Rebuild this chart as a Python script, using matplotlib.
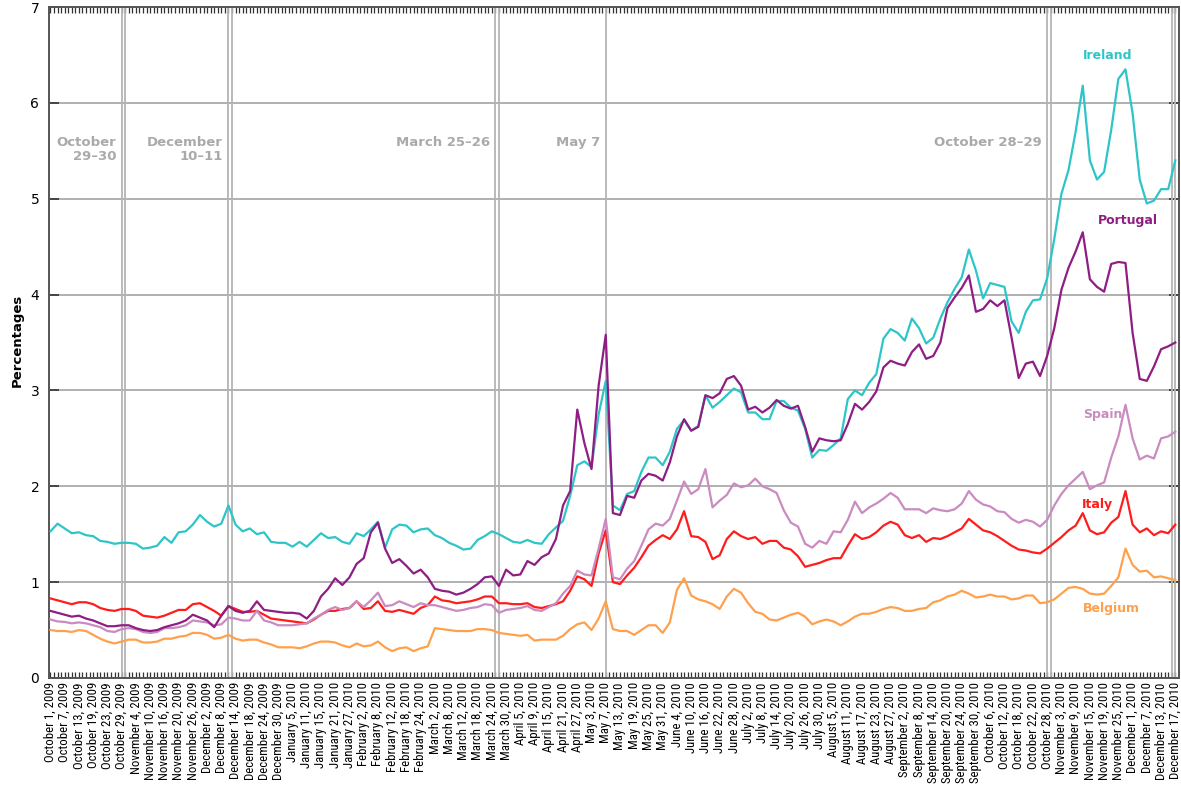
import numpy as np
import pandas as pd
import matplotlib
matplotlib.use('Agg')
import matplotlib.pyplot as plt
from matplotlib import font_manager

# business days from Oct 1 2009, values read every 2nd business day
START = '2009-10-01'
N_DAYS = 317
dates = pd.bdate_range(START, periods=N_DAYS)
days = np.arange(0, N_DAYS, 2)

ireland = [
    1.53, 1.61, 1.56, 1.51, 1.52, 1.49, 1.48, 1.43, 1.42, 1.40,
    1.41, 1.41, 1.40, 1.35, 1.36, 1.38, 1.47, 1.41, 1.52, 1.53,
    1.60, 1.70, 1.63, 1.58, 1.61, 1.80, 1.60, 1.53, 1.56, 1.50,
    1.52, 1.42, 1.41, 1.41, 1.37, 1.42, 1.37, 1.44, 1.51, 1.46,
    1.47, 1.42, 1.40, 1.51, 1.48, 1.55, 1.63, 1.36, 1.55, 1.60,
    1.59, 1.52, 1.55, 1.56, 1.49, 1.46, 1.41, 1.38, 1.34, 1.35,
    1.44, 1.48, 1.53, 1.50, 1.46, 1.42, 1.41, 1.44, 1.41, 1.40,
    1.50, 1.57, 1.64, 1.90, 2.22, 2.26, 2.20, 2.75, 3.10, 1.80,
    1.75, 1.92, 1.95, 2.15, 2.30, 2.30, 2.22, 2.36, 2.60, 2.69,
    2.58, 2.63, 2.95, 2.82, 2.88, 2.95, 3.02, 2.98, 2.77, 2.77,
    2.70, 2.70, 2.89, 2.89, 2.82, 2.79, 2.60, 2.30, 2.38, 2.37,
    2.43, 2.50, 2.91, 3.00, 2.95, 3.08, 3.17, 3.54, 3.64, 3.60,
    3.52, 3.75, 3.65, 3.49, 3.55, 3.75, 3.92, 4.06, 4.18, 4.47,
    4.25, 3.96, 4.12, 4.10, 4.08, 3.72, 3.60, 3.82, 3.94, 3.95,
    4.17, 4.58, 5.05, 5.30, 5.70, 6.18, 5.40, 5.20, 5.28, 5.72,
    6.25, 6.35, 5.89, 5.20, 4.95, 4.98, 5.10, 5.10, 5.40,
]

portugal = [
    0.70, 0.68, 0.66, 0.64, 0.65, 0.62, 0.60, 0.57, 0.54, 0.54,
    0.55, 0.55, 0.52, 0.50, 0.49, 0.50, 0.53, 0.55, 0.57, 0.60,
    0.66, 0.63, 0.60, 0.53, 0.65, 0.75, 0.70, 0.68, 0.70, 0.80,
    0.71, 0.70, 0.69, 0.68, 0.68, 0.67, 0.62, 0.70, 0.85, 0.93,
    1.04, 0.97, 1.05, 1.19, 1.25, 1.52, 1.62, 1.35, 1.20, 1.24,
    1.17, 1.09, 1.13, 1.05, 0.93, 0.91, 0.90, 0.87, 0.89, 0.93,
    0.98, 1.05, 1.06, 0.96, 1.13, 1.07, 1.08, 1.22, 1.18, 1.26,
    1.30, 1.45, 1.80, 1.95, 2.80, 2.45, 2.18, 3.05, 3.58, 1.72,
    1.70, 1.90, 1.88, 2.06, 2.13, 2.11, 2.06, 2.25, 2.52, 2.70,
    2.58, 2.62, 2.95, 2.92, 2.97, 3.12, 3.15, 3.05, 2.80, 2.83,
    2.77, 2.82, 2.90, 2.84, 2.81, 2.84, 2.62, 2.36, 2.50, 2.48,
    2.47, 2.48, 2.65, 2.86, 2.80, 2.88, 2.99, 3.24, 3.31, 3.28,
    3.26, 3.40, 3.48, 3.33, 3.36, 3.50, 3.86, 3.97, 4.07, 4.20,
    3.82, 3.85, 3.94, 3.88, 3.94, 3.55, 3.13, 3.28, 3.30, 3.15,
    3.36, 3.65, 4.05, 4.28, 4.45, 4.65, 4.16, 4.08, 4.03, 4.32,
    4.34, 4.33, 3.60, 3.12, 3.10, 3.25, 3.43, 3.46, 3.50,
]

spain = [
    0.61, 0.59, 0.585, 0.57, 0.58, 0.57, 0.55, 0.53, 0.49, 0.48,
    0.51, 0.52, 0.51, 0.48, 0.47, 0.48, 0.52, 0.52, 0.53, 0.55,
    0.60, 0.59, 0.58, 0.55, 0.56, 0.63, 0.62, 0.60, 0.60, 0.70,
    0.60, 0.58, 0.55, 0.55, 0.55, 0.56, 0.57, 0.62, 0.66, 0.71,
    0.74, 0.71, 0.73, 0.80, 0.74, 0.81, 0.89, 0.75, 0.76, 0.80,
    0.77, 0.74, 0.78, 0.76, 0.76, 0.74, 0.72, 0.70, 0.71, 0.73,
    0.74, 0.77, 0.76, 0.68, 0.71, 0.72, 0.73, 0.75, 0.71, 0.70,
    0.74, 0.78, 0.88, 0.96, 1.12, 1.08, 1.07, 1.35, 1.66, 1.05,
    1.03, 1.14, 1.22, 1.38, 1.55, 1.61, 1.59, 1.66, 1.85, 2.05,
    1.92, 1.97, 2.18, 1.78, 1.85, 1.91, 2.03, 1.99, 2.01, 2.08,
    2.00, 1.97, 1.93, 1.75, 1.62, 1.58, 1.40, 1.36, 1.43, 1.40,
    1.53, 1.52, 1.65, 1.84, 1.72, 1.78, 1.82, 1.87, 1.93, 1.88,
    1.76, 1.76, 1.76, 1.72, 1.77, 1.75, 1.74, 1.76, 1.82, 1.95,
    1.86, 1.81, 1.79, 1.74, 1.73, 1.66, 1.62, 1.65, 1.63, 1.58,
    1.65, 1.80, 1.92, 2.01, 2.08, 2.15, 1.97, 2.01, 2.04, 2.30,
    2.52, 2.85, 2.50, 2.28, 2.32, 2.29, 2.50, 2.52, 2.57,
]

italy = [
    0.83, 0.81, 0.79, 0.77, 0.79, 0.79, 0.77, 0.73, 0.71, 0.70,
    0.72, 0.72, 0.70, 0.65, 0.64, 0.63, 0.65, 0.68, 0.71, 0.71,
    0.77, 0.78, 0.74, 0.70, 0.65, 0.75, 0.72, 0.69, 0.69, 0.70,
    0.66, 0.62, 0.61, 0.60, 0.59, 0.58, 0.57, 0.61, 0.66, 0.70,
    0.70, 0.72, 0.73, 0.80, 0.72, 0.73, 0.80, 0.70, 0.69, 0.71,
    0.69, 0.67, 0.73, 0.76, 0.85, 0.81, 0.80, 0.78, 0.79, 0.80,
    0.82, 0.85, 0.85, 0.78, 0.78, 0.77, 0.77, 0.78, 0.74, 0.73,
    0.75, 0.77, 0.80, 0.91, 1.06, 1.03, 0.96, 1.30, 1.54, 1.00,
    0.98, 1.07, 1.15, 1.26, 1.38, 1.44, 1.49, 1.45, 1.55, 1.74,
    1.48, 1.47, 1.42, 1.24, 1.28, 1.45, 1.53, 1.48, 1.45, 1.47,
    1.40, 1.43, 1.43, 1.36, 1.34, 1.27, 1.16, 1.18, 1.20, 1.23,
    1.25, 1.25, 1.38, 1.50, 1.45, 1.47, 1.52, 1.59, 1.63, 1.60,
    1.49, 1.46, 1.49, 1.42, 1.46, 1.45, 1.48, 1.52, 1.56, 1.66,
    1.60, 1.54, 1.52, 1.48, 1.43, 1.38, 1.34, 1.33, 1.31, 1.30,
    1.35, 1.41, 1.47, 1.54, 1.59, 1.72, 1.54, 1.50, 1.52, 1.62,
    1.68, 1.95, 1.60, 1.52, 1.56, 1.49, 1.53, 1.51, 1.60,
]

belgium = [
    0.50, 0.49, 0.49, 0.48, 0.50, 0.49, 0.45, 0.41, 0.38, 0.36,
    0.38, 0.40, 0.40, 0.37, 0.37, 0.38, 0.41, 0.41, 0.43, 0.44,
    0.47, 0.47, 0.45, 0.41, 0.42, 0.45, 0.41, 0.39, 0.40, 0.40,
    0.37, 0.35, 0.32, 0.32, 0.32, 0.31, 0.33, 0.36, 0.38, 0.38,
    0.37, 0.34, 0.32, 0.36, 0.33, 0.34, 0.38, 0.32, 0.28, 0.31,
    0.32, 0.28, 0.31, 0.33, 0.52, 0.51, 0.50, 0.49, 0.49, 0.49,
    0.51, 0.51, 0.50, 0.47, 0.46, 0.45, 0.44, 0.45, 0.39, 0.40,
    0.40, 0.40, 0.44, 0.51, 0.56, 0.58, 0.50, 0.62, 0.80, 0.51,
    0.49, 0.49, 0.45, 0.50, 0.55, 0.55, 0.47, 0.58, 0.92, 1.04,
    0.86, 0.82, 0.80, 0.77, 0.72, 0.85, 0.93, 0.89, 0.78, 0.69,
    0.67, 0.61, 0.60, 0.63, 0.66, 0.68, 0.64, 0.56, 0.59, 0.61,
    0.59, 0.55, 0.59, 0.64, 0.67, 0.67, 0.69, 0.72, 0.74, 0.73,
    0.70, 0.70, 0.72, 0.73, 0.79, 0.81, 0.85, 0.87, 0.91, 0.88,
    0.84, 0.85, 0.87, 0.85, 0.85, 0.82, 0.83, 0.86, 0.86, 0.78,
    0.79, 0.82, 0.88, 0.94, 0.95, 0.93, 0.88, 0.87, 0.88, 0.96,
    1.05, 1.35, 1.18, 1.11, 1.12, 1.05, 1.06, 1.04, 1.02,
]

event_dates = ['2009-10-29', '2009-10-30', '2009-12-10', '2009-12-11',
               '2010-03-25', '2010-03-26', '2010-05-07',
               '2010-10-28', '2010-10-29', '2010-12-16', '2010-12-17']
event_texts = ['October\n29\u201330', 'December\n10\u201311', 'March 25\u201326',
               'May 7', 'October 28\u201329']
event_text_days = ['2009-10-29', '2009-12-10', '2010-03-25', '2010-05-07', '2010-10-28']

tick_days = np.arange(0, N_DAYS, 4)
tick_labels = [f'{d:%B} {d.day}, {d.year}' for d in dates[tick_days]]


def day_index(s):
    return dates.get_loc(pd.Timestamp(s))


# pick a narrow face for the long date labels if one is installed
installed = font_manager.fontManager.ttflist
names = {f.name for f in installed}
tick_font = {'family': 'DejaVu Sans', 'size': 6.6}
for cand in ['Liberation Sans Narrow', 'Roboto Condensed', 'Open Sans Condensed',
             'DejaVu Sans Condensed', 'Noto Sans Condensed']:
    if cand in names:
        tick_font = {'family': cand, 'size': 9.2}
        break
else:
    if any(f.name == 'DejaVu Sans' and str(f.stretch) in ('condensed', '300')
           for f in installed):
        tick_font = {'family': 'DejaVu Sans', 'size': 7.8, 'stretch': 'condensed'}

fig = plt.figure(figsize=(11.81, 7.89), dpi=100)
ax = fig.add_axes([0.0415, 0.1407, 0.9564, 0.8504])

for d in event_dates:
    ax.axvline(day_index(d), color='#b4b4b4', lw=1.3, zorder=1)

ax.set_ylim(0, 7)
ax.set_xlim(-0.4, 316.9)
ax.set_yticks(range(8))
ax.yaxis.grid(True, color='#a3a3a3', lw=1.2, zorder=0)
ax.set_axisbelow(True)

series = [
    ('Belgium', belgium, '#ffa04c'),
    ('Italy', italy, '#ff1c1c'),
    ('Spain', spain, '#c98bc0'),
    ('Ireland', ireland, '#2ec5c8'),
    ('Portugal', portugal, '#8e1d84'),
]
for name, vals, col in series:
    ax.plot(days, vals, color=col, lw=1.6, zorder=3, solid_joinstyle='round')

# series labels near the right end
label_pos = {'Ireland': (297, 6.49), 'Portugal': (302.6, 4.77), 'Spain': (295.5, 2.75),
             'Italy': (294.2, 1.81), 'Belgium': (298.1, 0.73)}
for name, vals, col in series:
    x, y = label_pos[name]
    ax.text(x, y, name, color=col, fontsize=9, fontweight='bold',
            ha='center', va='center', zorder=4)

# event annotations
for txt, d in zip(event_texts, event_text_days):
    ax.text(day_index(d) - 1.5, 5.65, txt, color='#aaaaaa', fontsize=9.5,
            fontweight='bold', ha='right', va='top', linespacing=1.05)

# axis styling
ax.set_xticks(tick_days)
ax.set_xticklabels(tick_labels, rotation=90, fontdict=tick_font)
ax.set_xticks(np.arange(N_DAYS), minor=True)
ax.tick_params(axis='x', which='both', direction='in', length=4, width=0.9,
               color='#333333', top=True, bottom=True, pad=3)
ax.tick_params(axis='y', which='major', direction='in', length=7, width=1.2,
               color='#333333', left=True, right=True, labelsize=10, pad=7)
for s in ax.spines.values():
    s.set_color('#555555')
    s.set_linewidth(1.4)

fig.text(17 / 1181, 1 - 340 / 789, 'Percentages', rotation=90, ha='center',
         va='center', fontsize=9.5, fontweight='bold')

fig.savefig('out.png', dpi=100)
